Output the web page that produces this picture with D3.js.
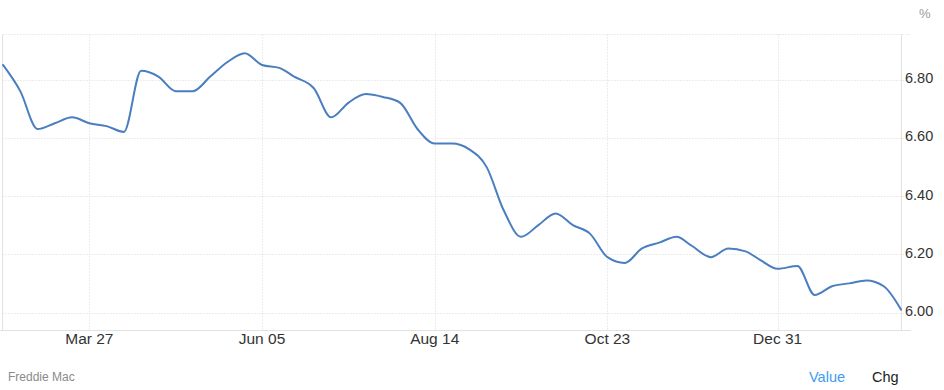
<!DOCTYPE html>
<html>
<head>
<meta charset="utf-8">
<script src="https://cdn.jsdelivr.net/npm/d3@7"></script>
<style>
  html, body { margin: 0; padding: 0; background: #fff; }
  svg { display: block; font-family: "Liberation Sans", Arial, sans-serif; }
  .grid line { stroke: #d8d8d8; stroke-width: 1; stroke-dasharray: 1 2; }
  .frame { stroke: #e2e2e2; stroke-width: 1; fill: none; }
  .ylab { font-size: 14.5px; fill: #333; }
  .xlab { font-size: 15.5px; fill: #333; }
</style>
</head>
<body>
<svg id="chart" width="944" height="390"></svg>
<script>
var width = 944;
var height = 390;

// weekly 30-yr rate, Freddie Mac
var dates = [
  '2025-02-20', '2025-02-27', '2025-03-06', '2025-03-13', '2025-03-20', '2025-03-27',
  '2025-04-03', '2025-04-10', '2025-04-17', '2025-04-24', '2025-05-01', '2025-05-08',
  '2025-05-15', '2025-05-22', '2025-05-29', '2025-06-05', '2025-06-12', '2025-06-18',
  '2025-06-26', '2025-07-03', '2025-07-10', '2025-07-17', '2025-07-24', '2025-07-31',
  '2025-08-07', '2025-08-14', '2025-08-21', '2025-08-28', '2025-09-04', '2025-09-11',
  '2025-09-18', '2025-09-25', '2025-10-02', '2025-10-09', '2025-10-16', '2025-10-23',
  '2025-10-30', '2025-11-06', '2025-11-13', '2025-11-20', '2025-11-26', '2025-12-04',
  '2025-12-11', '2025-12-18', '2025-12-24', '2025-12-31', '2026-01-08', '2026-01-15',
  '2026-01-22', '2026-01-29', '2026-02-05', '2026-02-12', '2026-02-19'
];
var rates = [
  6.85, 6.76, 6.63, 6.65, 6.67, 6.65,
  6.64, 6.62, 6.83, 6.81, 6.76, 6.76,
  6.81, 6.86, 6.89, 6.85, 6.84, 6.81,
  6.77, 6.67, 6.72, 6.75, 6.74, 6.72,
  6.63, 6.58, 6.58, 6.56, 6.50, 6.35,
  6.26, 6.30, 6.34, 6.30, 6.27, 6.19,
  6.17, 6.22, 6.24, 6.26, 6.23, 6.19,
  6.22, 6.21, 6.18, 6.15, 6.16, 6.06,
  6.09, 6.10, 6.11, 6.09, 6.01
];
var xTicks = ['2025-03-27', '2025-06-05', '2025-08-14', '2025-10-23', '2025-12-31'];
var yTicks = [6.00, 6.20, 6.40, 6.60, 6.80];

var parse = d3.utcParse('%Y-%m-%d');
var series = dates.map(function(d, i) {
    return { date: parse(d), value: rates[i] };
});

var plotLeft = 2.5, plotRight = 901.5, plotTop = 34.5, plotBottom = 330.5;

var x = d3.scaleUtc()
    .domain([parse(dates[0]), parse(dates[dates.length - 1])])
    .range([3, 901]);
var y = d3.scaleLinear()
    .domain([6.0, 6.8])
    .range([312.5, 79.5]);

var svg = d3.select('#chart');

// horizontal grid (top line + value lines)
var hGrid = svg.append('g').attr('class', 'grid');
hGrid.append('line')
     .attr('x1', plotLeft).attr('x2', 911)
     .attr('y1', plotTop).attr('y2', plotTop);
hGrid.selectAll('.h')
     .data(yTicks)
     .enter()
     .append('line')
     .attr('class', 'h')
     .attr('x1', plotLeft)
     .attr('x2', 911)
     .attr('y1', function(d) { return Math.round(y(d)) + 0.5; })
     .attr('y2', function(d) { return Math.round(y(d)) + 0.5; });

// vertical grid
svg.append('g').attr('class', 'grid')
   .selectAll('line')
   .data(xTicks)
   .enter()
   .append('line')
   .attr('x1', function(d) { return Math.round(x(parse(d))) + 0.5; })
   .attr('x2', function(d) { return Math.round(x(parse(d))) + 0.5; })
   .attr('y1', plotTop)
   .attr('y2', plotBottom);

// frame: left, right, bottom
svg.append('line').attr('class', 'frame')
   .attr('x1', plotLeft).attr('x2', plotLeft)
   .attr('y1', plotTop).attr('y2', plotBottom);
svg.append('line').attr('class', 'frame')
   .attr('x1', plotRight).attr('x2', plotRight)
   .attr('y1', plotTop).attr('y2', plotBottom);
svg.append('line').attr('class', 'frame')
   .attr('x1', 0).attr('x2', 911)
   .attr('y1', plotBottom).attr('y2', plotBottom);

// y labels on the right
svg.selectAll('.ylab')
   .data(yTicks)
   .enter()
   .append('text')
   .attr('class', 'ylab')
   .attr('x', 905)
   .attr('y', function(d) { return y(d); })
   .attr('dy', '0.25em')
   .text(function(d) { return d.toFixed(2); });

svg.append('text')
   .attr('x', 919)
   .attr('y', 18)
   .attr('font-size', 13)
   .attr('fill', '#999')
   .text('%');

// x labels
var fmt = d3.utcFormat('%b %d');
svg.selectAll('.xlab')
   .data(xTicks)
   .enter()
   .append('text')
   .attr('class', 'xlab')
   .attr('x', function(d) { return x(parse(d)); })
   .attr('y', 344)
   .attr('text-anchor', 'middle')
   .text(function(d) { return fmt(parse(d)); });

// the line
var line = d3.line()
    .x(function(d) { return x(d.date); })
    .y(function(d) { return y(d.value); })
    .curve(d3.curveMonotoneX);

svg.append('path')
   .datum(series)
   .attr('d', line)
   .attr('fill', 'none')
   .attr('stroke', '#4a7ebf')
   .attr('stroke-width', 2)
   .attr('stroke-linejoin', 'round')
   .attr('stroke-linecap', 'round');

// footer
svg.append('text')
   .attr('x', 8)
   .attr('y', 381)
   .attr('font-size', 12)
   .attr('fill', '#8a8a8a')
   .text('Freddie Mac');

svg.append('text')
   .attr('x', 809)
   .attr('y', 382)
   .attr('font-size', 14.5)
   .attr('fill', '#3d9bf0')
   .text('Value');

svg.append('text')
   .attr('x', 872)
   .attr('y', 382)
   .attr('font-size', 14.5)
   .attr('fill', '#222')
   .text('Chg');
</script>
</body>
</html>
